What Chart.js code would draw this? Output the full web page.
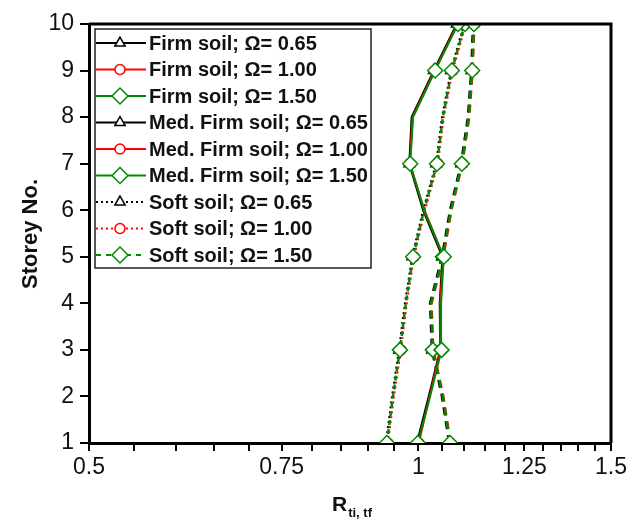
<!DOCTYPE html>
<html>
<head>
<meta charset="utf-8">
<script src="https://cdn.jsdelivr.net/npm/chart.js@4/dist/chart.umd.min.js"></script>
<style>
html,body{margin:0;padding:0;background:#fff;}
#wrap{width:640px;height:528px;}
</style>
</head>
<body>
<div id="wrap"><canvas id="c" width="640" height="528"></canvas></div>
<script>
// ---- data ----
const storeys = [1, 2, 3, 4, 5, 6, 7, 8, 9, 10];
const firm065 = [0.997, 1.022, 1.047, 1.046, 1.052, 1.010, 0.981, 0.986, 1.033, 1.084];
const firm100 = [1.001, 1.024, 1.048, 1.047, 1.054, 1.013, 0.982, 0.988, 1.035, 1.086];
const firm150 = [0.999, 1.025, 1.050, 1.049, 1.055, 1.012, 0.983, 0.989, 1.036, 1.087];
const med065  = [1.067, 1.051, 1.029, 1.025, 1.051, 1.069, 1.094, 1.110, 1.118, 1.122];
const med100  = [1.070, 1.054, 1.032, 1.028, 1.054, 1.072, 1.097, 1.113, 1.121, 1.125];
const med150  = [1.069, 1.053, 1.031, 1.027, 1.053, 1.071, 1.096, 1.112, 1.120, 1.124];
const soft065 = [0.934, 0.946, 0.960, 0.972, 0.987, 1.010, 1.038, 1.051, 1.071, 1.101];
const soft100 = [0.938, 0.950, 0.964, 0.976, 0.991, 1.014, 1.042, 1.055, 1.075, 1.105];
const soft150 = [0.936, 0.948, 0.962, 0.974, 0.989, 1.012, 1.040, 1.053, 1.073, 1.103];
const xMajorTicks = [0.5, 0.75, 1, 1.25, 1.5];
const xMajorLabels = ['0.5', '0.75', '1', '1.25', '1.5'];
const xMinorTicks = [0.55, 0.6, 0.65, 0.7, 0.8, 0.85, 0.9, 0.95, 1.05, 1.1, 1.15, 1.2, 1.3, 1.35, 1.4, 1.45];
const yTicks = [1, 2, 3, 4, 5, 6, 7, 8, 9, 10];
const legendLabels = [
  'Firm soil; Ω= 0.65', 'Firm soil; Ω= 1.00', 'Firm soil; Ω= 1.50',
  'Med. Firm soil; Ω= 0.65', 'Med. Firm soil; Ω= 1.00', 'Med. Firm soil; Ω= 1.50',
  'Soft soil; Ω= 0.65', 'Soft soil; Ω= 1.00', 'Soft soil; Ω= 1.50'
];
const seriesValues = [firm065, firm100, firm150, med065, med100, med150, soft065, soft100, soft150];

// ---- styles ----
const BLACK = '#000000', RED = '#ff0000', GREEN = '#008a00';
const FONT = '"Liberation Sans", Arial, Helvetica, sans-serif';
const markerIdx = [0, 2, 4, 6, 8, 9];
const styles = [
  {c: BLACK, ps: 'triangle', r: 6,   dash: [],     w: 2,   ld: [],     order: 3},
  {c: RED,   ps: 'circle',   r: 5,   dash: [],     w: 2,   ld: [],     order: 2},
  {c: GREEN, ps: 'rectRot',  r: 7.5, dash: [],     w: 2,   ld: [],     order: 1},
  {c: BLACK, ps: 'triangle', r: 6,   dash: [8, 6], w: 2.5, ld: [],     order: 3},
  {c: RED,   ps: 'circle',   r: 5,   dash: [8, 6], w: 2.5, ld: [],     order: 2},
  {c: GREEN, ps: 'rectRot',  r: 7.5, dash: [8, 6], w: 2.5, ld: [],     order: 1},
  {c: BLACK, ps: 'triangle', r: 6,   dash: [2, 3], w: 2,   ld: [2, 3], order: 3},
  {c: RED,   ps: 'circle',   r: 5,   dash: [2, 3], w: 2,   ld: [2, 3], order: 2},
  {c: GREEN, ps: 'rectRot',  r: 7.5, dash: [5, 4], w: 2.5, ld: [5, 5], order: 1}
];

const datasets = seriesValues.map((vals, k) => {
  const s = styles[k];
  return {
    label: legendLabels[k],
    data: storeys.map((st, i) => ({x: vals[i], y: st})),
    showLine: true,
    borderColor: s.c,
    borderWidth: s.w,
    borderDash: s.dash,
    pointStyle: s.ps,
    pointBackgroundColor: '#ffffff',
    pointBorderColor: s.c,
    pointBorderWidth: 1.5,
    pointRadius: ctx => markerIdx.includes(ctx.dataIndex) ? s.r : 0,
    pointHoverRadius: 0,
    tension: 0,
    fill: false,
    clip: 0,
    order: s.order
  };
});

const decor = {
  id: 'decor',
  afterDraw(chart) {
    const {ctx, chartArea: a} = chart;
    const xs = chart.scales.x, ys = chart.scales.y;
    ctx.save();
    ctx.setLineDash([]);
    ctx.strokeStyle = '#000';

    // tick marks (outside), positioned through the library's scales
    ctx.lineWidth = 2;
    ctx.beginPath();
    xMajorTicks.concat(xMinorTicks).forEach(v => {
      const px = Math.round(xs.getPixelForValue(v));
      ctx.moveTo(px, a.bottom);
      ctx.lineTo(px, a.bottom + 8);
    });
    yTicks.forEach(v => {
      const py = Math.round(ys.getPixelForValue(v));
      ctx.moveTo(a.left, py);
      ctx.lineTo(a.left - 9, py);
    });
    ctx.stroke();

    // top and right frame
    ctx.lineWidth = 3;
    ctx.beginPath();
    ctx.moveTo(a.left, a.top);
    ctx.lineTo(a.right, a.top);
    ctx.lineTo(a.right, a.bottom);
    ctx.stroke();

    // legend
    const bx = 95, by = 29, bw = 276, bh = 239;
    ctx.fillStyle = '#fff';
    ctx.fillRect(bx, by, bw, bh);
    ctx.strokeStyle = '#222';
    ctx.lineWidth = 1.5;
    ctx.strokeRect(bx, by, bw, bh);
    for (let k = 0; k < legendLabels.length; k++) {
      const s = styles[k];
      const y = 43 + k * 26.5;
      ctx.strokeStyle = s.c;
      ctx.lineWidth = 2;
      ctx.setLineDash(s.ld);
      ctx.beginPath();
      ctx.moveTo(bx + 1, y);
      ctx.lineTo(146, y);
      ctx.stroke();
      ctx.setLineDash([]);
      ctx.fillStyle = '#fff';
      ctx.strokeStyle = s.c;
      ctx.lineWidth = 1.5;
      Chart.helpers.drawPoint(ctx, {pointStyle: s.ps, radius: s.ps === 'rectRot' ? 8 : s.r, rotation: 0, borderWidth: 1.5}, 120, y);
      ctx.fillStyle = '#111';
      ctx.font = 'bold 20px ' + FONT;
      ctx.textAlign = 'left';
      ctx.textBaseline = 'middle';
      ctx.fillText(legendLabels[k], 149, y + 1);
    }

    // y axis title
    ctx.fillStyle = '#111';
    ctx.save();
    ctx.translate(31, 234);
    ctx.rotate(-Math.PI / 2);
    ctx.font = 'bold 22px ' + FONT;
    ctx.textAlign = 'center';
    ctx.textBaseline = 'middle';
    ctx.fillText('Storey No.', 0, 0);
    ctx.restore();

    // x axis title with subscript
    ctx.textAlign = 'left';
    ctx.textBaseline = 'alphabetic';
    ctx.font = 'bold 21px ' + FONT;
    ctx.fillText('R', 332, 511);
    const rw = ctx.measureText('R').width;
    ctx.font = 'bold 13px ' + FONT;
    ctx.fillText('ti, tf', 332 + rw + 1, 517);
    ctx.restore();
  }
};

new Chart(document.getElementById('c'), {
  type: 'scatter',
  data: {datasets},
  options: {
    responsive: false,
    animation: false,
    layout: {padding: {left: 0, right: 29, top: 24, bottom: 0}},
    plugins: {legend: {display: false}, tooltip: {enabled: false}, title: {display: false}},
    scales: {
      x: {
        type: 'logarithmic',
        min: 0.5,
        max: 1.5,
        afterBuildTicks(scale) {
          const all = xMajorTicks.concat(xMinorTicks).sort((p, q) => p - q);
          scale.ticks = all.map(v => ({value: v}));
        },
        afterFit(scale) { scale.height = 85; },
        ticks: {
          autoSkip: false,
          maxRotation: 0,
          minRotation: 0,
          padding: 4,
          color: '#111',
          font: {family: FONT, size: 23},
          callback(value) {
            const i = xMajorTicks.findIndex(m => Math.abs(m - value) < 1e-9);
            return i >= 0 ? xMajorLabels[i] : '';
          }
        },
        grid: {display: true, drawOnChartArea: false, drawTicks: true, tickLength: 7, color: '#000', lineWidth: 2},
        border: {display: true, color: '#000', width: 3}
      },
      y: {
        type: 'linear',
        min: 1,
        max: 10,
        afterFit(scale) { scale.width = 89; },
        ticks: {
          stepSize: 1,
          padding: 7,
          color: '#111',
          font: {family: FONT, size: 23}
        },
        grid: {display: true, drawOnChartArea: false, drawTicks: true, tickLength: 8, color: '#000', lineWidth: 2},
        border: {display: true, color: '#000', width: 3}
      }
    }
  },
  plugins: [decor]
});
</script>
</body>
</html>
